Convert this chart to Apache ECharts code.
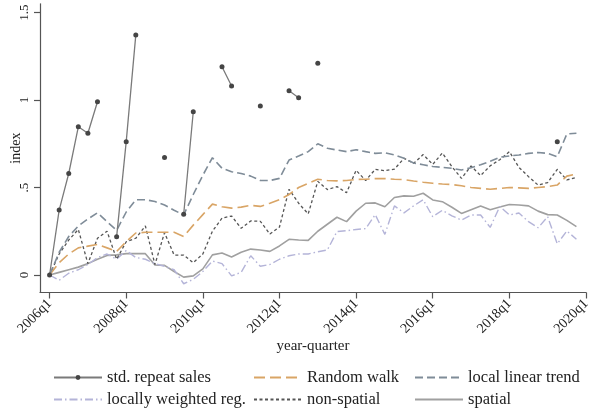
<!DOCTYPE html>
<html>
<head>
<meta charset="utf-8">
<script src="https://cdn.jsdelivr.net/npm/echarts@6/dist/echarts.min.js"></script>
<style>
  html, body { margin: 0; padding: 0; background: #fff; }
  #chart { width: 593px; height: 412px; }
</style>
</head>
<body>
<div id="chart"></div>
<script>
// Quarterly house price indices, 2006q1 - 2019q4 (index 0 = 2006q1)
const startYear = 2006;
const xTickLabels = ['2006q1', '2008q1', '2010q1', '2012q1', '2014q1', '2016q1', '2018q1', '2020q1'];
const yTickValues = [0, 0.5, 1, 1.5];
const yTickLabels = ['0', '.5', '1', '1.5'];

// standard repeat sales: only quarters with enough pairs are estimated
const stdRepeatSales = [
  0, 0.371, 0.58, 0.847, 0.81, 0.99, null, 0.219, 0.762, 1.371,
  null, null, 0.672, null, 0.347, 0.933, null, null, 1.19, 1.08,
  null, null, 0.966, null, null, 1.053, 1.013, null, 1.21, null,
  null, null, null, null, null, null, null, null, null, null,
  null, null, null, null, null, null, null, null, null, null,
  null, null, null, 0.762, null, null
];
const randomWalk = [
  0, 0.07, 0.12, 0.155, 0.165, 0.175, 0.155, 0.135, 0.19, 0.24,
  0.244, 0.244, 0.244, 0.244, 0.22, 0.285, 0.345, 0.405, 0.39, 0.382,
  0.388, 0.398, 0.392, 0.41, 0.43, 0.46, 0.5, 0.524, 0.547, 0.54,
  0.538, 0.54, 0.546, 0.547, 0.551, 0.551, 0.547, 0.545, 0.537, 0.53,
  0.524, 0.52, 0.517, 0.51, 0.5, 0.495, 0.49, 0.495, 0.5, 0.498,
  0.495, 0.5, 0.505, 0.514, 0.565, 0.578
];
const localLinearTrend = [
  0, 0.13, 0.22, 0.28, 0.32, 0.355, 0.305, 0.255, 0.36, 0.43,
  0.43, 0.42, 0.4, 0.37, 0.343, 0.46, 0.57, 0.67, 0.61, 0.59,
  0.58, 0.565, 0.54, 0.54, 0.552, 0.657, 0.68, 0.705, 0.75, 0.724,
  0.714, 0.705, 0.716, 0.705, 0.695, 0.698, 0.686, 0.667, 0.64, 0.63,
  0.62, 0.615, 0.61, 0.6, 0.613, 0.63, 0.65, 0.673, 0.68, 0.686,
  0.695, 0.7, 0.695, 0.676, 0.806, 0.81
];
const locallyWeighted = [
  0, -0.03, 0.01, 0.03, 0.06, 0.1, 0.12, 0.09, 0.14, 0.1,
  0.09, 0.065, 0.05, 0.03, -0.05, -0.025, 0.02, 0.08, 0.065, -0.005,
  0.015, 0.11, 0.05, 0.06, 0.09, 0.11, 0.12, 0.12, 0.133, 0.143,
  0.248, 0.253, 0.26, 0.265, 0.345, 0.232, 0.395, 0.355, 0.395, 0.43,
  0.333, 0.37, 0.338, 0.314, 0.343, 0.343, 0.272, 0.392, 0.343, 0.354,
  0.305, 0.27, 0.333, 0.178, 0.252, 0.204
];
const nonSpatial = [
  0, 0.12, 0.2, 0.26, 0.065, 0.21, 0.25, 0.09, 0.19, 0.21,
  0.28, 0.06, 0.242, 0.114, 0.114, 0.07, 0.12, 0.25, 0.325, 0.337,
  0.267, 0.309, 0.307, 0.234, 0.274, 0.49, 0.41, 0.349, 0.535, 0.488,
  0.505, 0.47, 0.598, 0.54, 0.604, 0.596, 0.605, 0.667, 0.638, 0.688,
  0.632, 0.697, 0.619, 0.552, 0.623, 0.568, 0.624, 0.659, 0.705, 0.615,
  0.562, 0.514, 0.528, 0.604, 0.543, 0.558
];
const spatial = [
  0, 0.015, 0.03, 0.045, 0.065, 0.09, 0.112, 0.115, 0.122, 0.122,
  0.122, 0.057, 0.055, 0.02, -0.012, -0.005, 0.035, 0.115, 0.126, 0.103,
  0.13, 0.148, 0.143, 0.135, 0.166, 0.204, 0.2, 0.198, 0.25, 0.29,
  0.33, 0.305, 0.365, 0.41, 0.412, 0.39, 0.443, 0.452, 0.45, 0.467,
  0.429, 0.419, 0.387, 0.352, 0.373, 0.394, 0.373, 0.388, 0.403, 0.4,
  0.395, 0.365, 0.345, 0.343, 0.312, 0.276
];

// quarter offset from 2006q1 for a label such as '2012q1'
function quarterIndex(label) {
  const y = parseInt(label.slice(0, 4), 10);
  const q = parseInt(label.slice(5), 10);
  return (y - startYear) * 4 + (q - 1);
}
const xTickValues = xTickLabels.map(quarterIndex);
const toPairs = arr => arr.map((v, i) => [i, v]);

const FONT = 'Liberation Serif';
const AXIS_COLOR = '#555';

function lineSeries(name, data, color, width, dash, extra) {
  return Object.assign({
    name: name,
    type: 'line',
    data: toPairs(data),
    symbol: 'none',
    connectNulls: false,
    animation: false,
    z: 2,
    lineStyle: { color: color, width: width, type: dash, cap: 'butt' },
    itemStyle: { color: color }
  }, extra || {});
}

const series = [
  lineSeries('spatial', spatial, '#a0a0a0', 1.6, 'solid'),
  lineSeries('locally weighted reg.', locallyWeighted, '#b4b4d8', 1.4, [8, 3, 1.5, 3]),
  lineSeries('non-spatial', nonSpatial, '#555555', 1.3, [3, 2.5]),
  lineSeries('Random walk', randomWalk, '#d9a566', 1.6, [11, 5]),
  lineSeries('local linear trend', localLinearTrend, '#7f8c98', 1.6, [8, 4]),
  lineSeries('std. repeat sales', stdRepeatSales, '#7a7a7a', 1.3, 'solid', {
    symbol: 'circle',
    symbolSize: 5,
    showSymbol: true,
    z: 3,
    itemStyle: { color: '#454545', borderWidth: 0 }
  })
];

// two rows of three legend entries; only the repeat-sales key shows a marker
const legendCols = [53, 253, 414];
const legendRows = [369, 391];
const legendOrder = [
  ['std. repeat sales', 'Random walk', 'local linear trend'],
  ['locally weighted reg.', 'non-spatial', 'spatial']
];
const legends = [];
legendOrder.forEach((row, r) => {
  row.forEach((name, c) => {
    const withMarker = name === 'std. repeat sales';
    legends.push({
      data: [name],
      left: legendCols[c],
      top: legendRows[r],
      itemWidth: 48,
      itemHeight: 6,
      itemStyle: withMarker ? { color: '#454545' } : { opacity: 0 },
      padding: 0,
      selectedMode: false,
      textStyle: { fontFamily: FONT, fontSize: 16.5, color: '#222' }
    });
  });
});

const chart = echarts.init(document.getElementById('chart'), null, { renderer: 'canvas' });
chart.setOption({
  animation: false,
  backgroundColor: '#fff',
  grid: { left: 40, right: 7, top: 3.75, bottom: 119.5, containLabel: false, outerBoundsMode: 'none' },
  legend: legends,
  xAxis: {
    type: 'value',
    min: -1,
    max: 56,
    name: 'year-quarter',
    nameLocation: 'middle',
    nameGap: 46,
    nameMoveOverlap: false,
    nameTextStyle: { fontFamily: FONT, fontSize: 15, color: '#222' },
    axisLine: { onZero: false, lineStyle: { color: AXIS_COLOR, width: 1.2 } },
    axisTick: { show: true, length: 6, customValues: xTickValues, lineStyle: { color: AXIS_COLOR, width: 1.2 } },
    axisLabel: {
      customValues: xTickValues,
      rotate: 45,
      margin: 9,
      fontFamily: FONT,
      fontSize: 14,
      color: '#222',
      formatter: v => xTickLabels[xTickValues.indexOf(v)] || ''
    },
    splitLine: { show: false }
  },
  yAxis: {
    type: 'value',
    min: -0.1,
    max: 1.55,
    name: 'index',
    nameLocation: 'middle',
    nameGap: 17,
    nameMoveOverlap: false,
    nameTextStyle: { fontFamily: FONT, fontSize: 14, color: '#222' },
    axisLine: { onZero: false, lineStyle: { color: AXIS_COLOR, width: 1.2 } },
    axisTick: { show: true, length: 6, customValues: yTickValues, lineStyle: { color: AXIS_COLOR, width: 1.2 } },
    axisLabel: {
      customValues: yTickValues,
      rotate: 90,
      margin: 9,
      fontFamily: FONT,
      fontSize: 13,
      color: '#222',
      formatter: v => yTickLabels[yTickValues.indexOf(v)] || ''
    },
    splitLine: { show: false }
  },
  series: series
});
</script>
</body>
</html>
